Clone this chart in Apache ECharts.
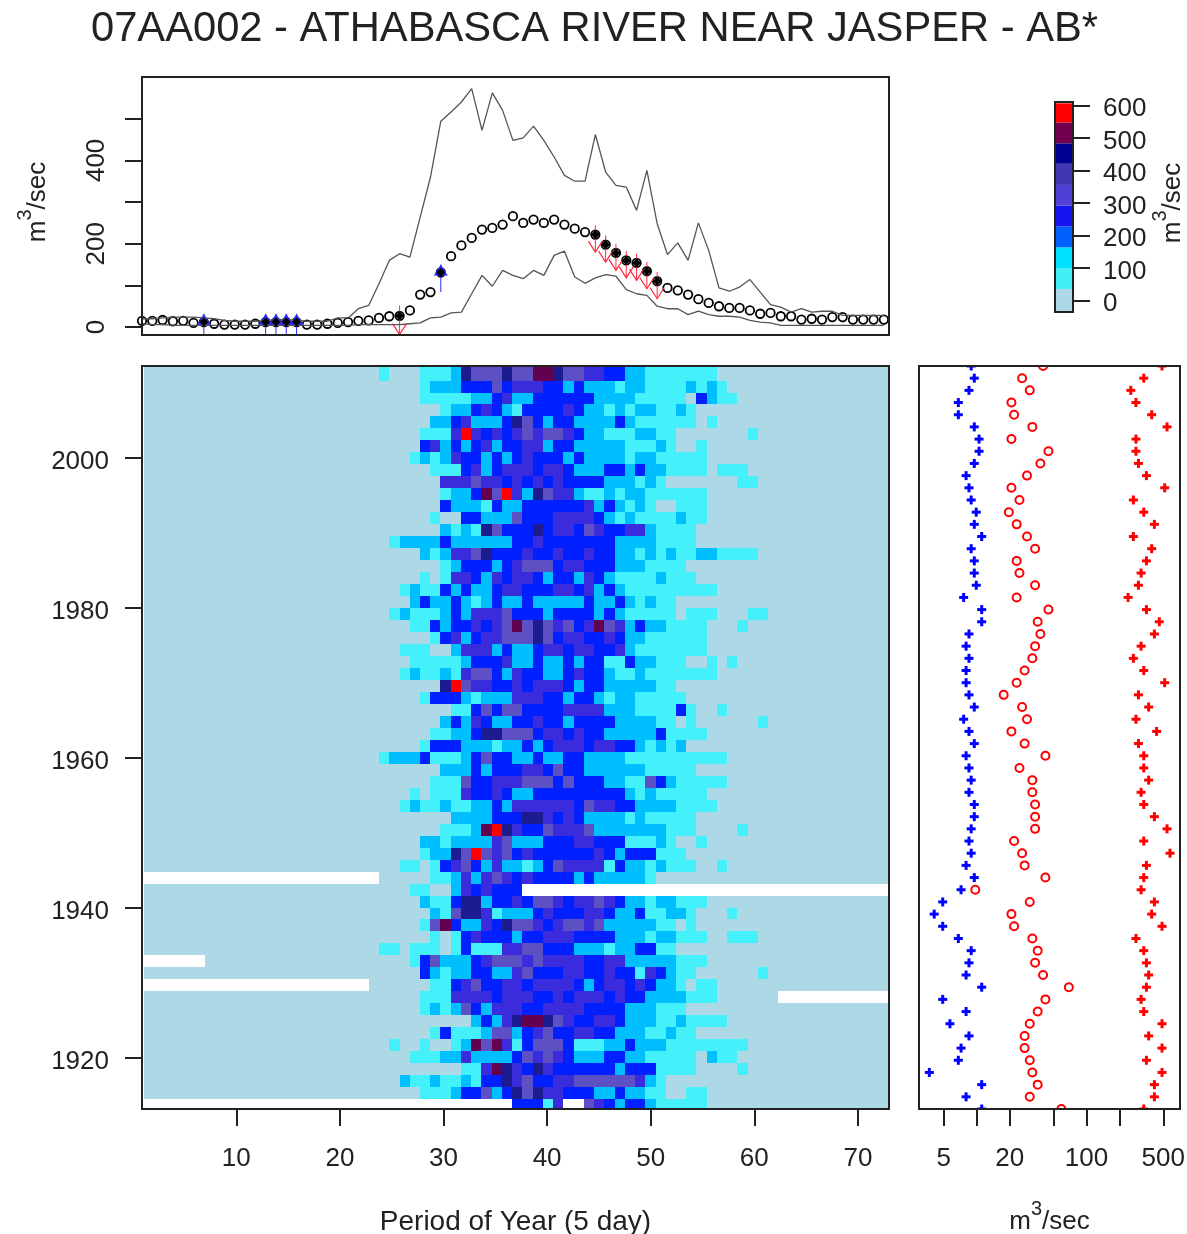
<!DOCTYPE html>
<html>
<head>
<meta charset="utf-8">
<title>07AA002</title>
<script src="https://cdn.jsdelivr.net/npm/echarts@6/dist/echarts.min.js"></script>
<style>
html, body { margin: 0; background: #fff; }
#chart { width: 1187px; height: 1234px; }
</style>
</head>
<body>
<div id="chart"></div>
<script>
var titleText = '07AA002 - ATHABASCA RIVER NEAR JASPER - AB*';
var fontName = '"Liberation Sans", Arial, sans-serif';

// top panel, one value per 5 day period (m3/sec)
var meanFlow = [15,15,17,14,15,10,12,8,6,6,6,8,12,12,12,12,6,6,8,10,12,15,16,22,26,27,40,78,84,131,170,196,214,234,238,246,266,250,258,250,258,246,236,228,222,198,178,160,154,134,110,94,88,78,67,58,50,46,46,40,32,34,26,26,18,20,18,24,24,18,18,18,18];
var maxFlow = [20,20,22,24,24,24,22,20,16,14,14,14,16,18,18,16,14,14,14,22,22,44,52,104,160,176,168,264,360,494,516,540,572,472,562,520,448,454,482,448,408,364,350,350,462,372,340,336,280,376,248,174,202,160,250,184,94,86,96,114,84,54,48,36,44,36,38,38,28,28,28,28,28];
var minFlow = [8,6,6,4,4,4,4,4,4,4,4,4,4,4,4,4,4,4,4,4,4,6,6,6,6,6,8,10,22,24,34,36,80,124,98,136,124,116,136,124,172,182,120,105,118,126,122,90,80,76,50,44,44,30,38,30,26,26,24,16,12,10,4,4,4,4,4,4,4,4,4,4,4];

// periods with a trend marker: [period, tail, head]
var trendArrows = [[7,-20,32],[13,-20,32],[14,-20,32],[15,-20,32],[16,-20,32],[26,52,-18],[30,84,150],[45,244,180],[46,220,156],[47,200,136],[48,182,118],[49,176,112],[50,156,92],[51,132,68]];

// heat map, top row first. each row lists "period:class" where the class changes, x = no data
var heatRows = [
  '24:1 25:0 28:1 31:2 32:6 33:5 36:6 37:5 39:7 41:6 42:5 44:4 46:3 48:2 50:1 57:0',
  '28:1 29:2 32:3 35:5 36:3 37:4 40:3 42:2 43:3 44:2 47:1 48:2 50:1 54:2 55:1 56:2 57:1 58:0',
  '28:1 33:2 35:3 36:4 37:2 39:3 45:2 49:1 54:0 55:3 56:2 57:1 59:0',
  '30:1 31:2 33:3 34:4 35:3 36:2 37:1 38:3 42:4 43:3 44:2 46:1 47:2 48:1 49:2 51:1 53:2 54:1 55:0',
  '29:2 31:3 32:4 33:2 36:3 37:6 38:5 39:3 40:2 41:3 43:2 47:3 48:2 49:1 55:0 56:1 57:0',
  '28:1 31:4 32:8 33:4 34:3 35:4 36:3 37:4 38:5 39:4 40:5 42:4 43:3 44:2 46:1 49:2 51:1 53:0 60:1 61:0',
  '28:3 29:4 30:2 31:3 32:2 33:3 34:4 35:2 36:3 38:4 40:2 41:3 43:2 48:1 51:2 52:1 53:0 55:1 56:0',
  '27:1 28:2 29:1 30:2 31:4 32:3 34:2 35:3 36:2 37:3 38:4 39:3 42:2 43:3 44:2 48:1 49:2 51:1 56:0',
  '29:1 32:3 33:4 34:2 35:3 36:4 39:3 40:4 42:3 43:2 46:3 48:2 49:3 50:2 52:1 56:0 57:1 60:0',
  '30:4 33:5 34:4 36:3 37:4 38:3 39:4 40:3 41:4 42:3 46:2 49:1 50:2 51:1 52:0 59:1 61:0',
  '30:1 31:2 33:3 34:7 35:5 36:8 37:4 38:2 39:6 40:5 41:4 43:2 44:1 46:2 47:1 48:2 50:1 56:0',
  '30:3 31:2 34:1 35:3 36:2 38:3 44:4 45:2 46:3 47:2 48:1 49:2 50:1 51:0 53:1 56:0',
  '29:1 30:0 32:3 34:2 37:5 38:3 41:4 45:3 46:2 47:1 48:2 49:1 53:2 54:1 56:0',
  '30:2 31:1 32:2 33:1 34:6 35:5 36:3 39:6 40:3 41:4 43:3 44:5 45:4 46:3 48:4 50:2 51:1 55:0',
  '25:1 26:2 30:3 31:2 37:3 39:4 40:3 47:2 51:1 55:0',
  '28:2 29:1 30:2 31:4 33:5 34:6 35:3 38:4 39:3 41:4 42:3 44:4 45:3 47:2 49:1 50:2 51:1 52:2 53:1 55:2 57:1 61:0',
  '30:1 31:2 32:3 35:2 36:3 37:4 38:5 41:3 42:4 44:3 47:2 50:1 54:0',
  '28:1 29:0 30:1 31:4 33:3 34:2 35:4 36:3 37:4 39:3 40:2 41:3 43:2 44:4 45:3 46:2 47:1 51:2 52:1 55:0',
  '26:1 27:2 28:1 30:3 31:2 32:3 33:2 35:3 36:4 38:3 41:4 43:3 44:4 45:2 46:3 47:2 48:1 57:0',
  '27:2 28:3 29:2 31:3 32:2 33:1 34:2 35:3 36:2 38:3 39:2 44:3 45:2 47:3 48:2 49:1 50:2 51:1 53:0',
  '25:1 26:2 27:1 30:2 31:3 32:2 33:4 36:5 37:3 40:2 41:3 45:2 46:3 47:2 48:1 53:0 54:1 57:0 60:1 62:0',
  '27:1 29:3 30:2 31:3 33:4 34:3 35:4 36:5 37:7 38:5 39:6 40:5 41:4 42:5 43:3 44:4 45:7 46:5 47:4 48:2 49:3 50:2 52:1 56:0 59:1 60:0',
  '29:1 30:3 31:4 32:2 33:3 34:4 36:5 39:6 40:5 41:3 42:4 44:3 46:4 47:3 48:2 50:1 56:0',
  '26:1 29:0 31:2 32:4 35:2 36:3 37:2 39:3 40:4 42:3 43:4 45:3 47:4 48:2 49:1 56:0',
  '27:1 32:2 33:3 36:4 37:2 39:3 40:2 42:3 43:2 44:3 46:1 48:3 49:2 51:1 54:0 56:1 57:0 58:1 59:0',
  '26:1 27:2 28:1 30:2 31:1 32:4 33:5 35:3 36:2 37:4 38:3 40:2 42:3 43:4 44:3 46:2 47:1 49:2 50:1 57:0',
  '30:6 31:8 32:5 33:4 35:3 37:4 38:3 39:4 42:3 43:2 44:3 46:2 51:1 53:0',
  '28:1 29:3 32:2 33:1 34:2 37:4 40:3 42:2 43:3 45:2 46:1 47:2 49:1 54:0',
  '31:1 33:3 34:5 35:3 36:5 38:3 42:4 46:2 49:1 53:3 54:1 55:0 57:1 58:0',
  '30:2 31:3 32:2 33:4 34:3 35:2 37:3 39:4 40:3 42:2 43:3 47:2 51:1 53:0 54:1 55:0 61:1 62:0',
  '29:1 31:2 33:3 34:6 36:5 39:3 40:4 42:3 43:4 44:3 46:2 51:3 52:1 56:0',
  '28:1 29:3 32:2 35:1 36:2 38:3 39:2 40:3 41:4 44:3 45:4 47:3 49:2 50:1 51:2 52:1 53:2 54:0',
  '24:1 25:2 28:3 29:1 32:2 33:3 34:5 35:3 37:2 39:3 40:2 42:3 44:2 48:1 58:0',
  '30:2 33:3 34:2 35:3 38:4 40:3 41:5 42:3 44:2 50:1 55:0',
  '29:1 32:5 33:3 35:4 38:5 41:3 42:5 43:3 46:2 48:1 50:5 51:3 52:2 53:1 58:0',
  '27:1 28:0 29:1 32:4 33:3 35:4 36:3 37:2 39:3 48:2 49:1 50:2 51:1 56:0',
  '26:1 27:2 28:1 30:2 31:1 33:2 35:3 36:2 37:4 43:3 44:5 45:4 47:3 49:2 53:1 57:0',
  '31:2 35:3 38:6 40:4 41:3 42:4 43:3 44:2 48:1 49:2 50:1 55:0',
  '30:1 33:2 34:7 35:8 36:6 37:4 38:3 40:5 41:4 44:5 45:2 52:1 55:0 59:1 60:0',
  '28:2 30:1 31:2 35:4 36:5 37:2 40:3 43:4 45:3 48:1 51:2 52:1 53:0 55:1 56:0',
  '28:1 29:2 31:6 32:5 33:8 34:5 35:4 36:5 37:3 38:4 39:3 45:4 46:3 47:2 48:3 51:1 54:0',
  '26:1 28:0 29:1 30:3 31:4 32:5 33:3 34:2 35:4 36:2 38:1 39:2 40:3 41:5 42:4 46:1 47:3 48:2 50:1 51:2 52:1 55:0 57:1 58:0',
  '1:x 24:0 29:1 31:2 32:4 33:2 34:4 35:5 36:4 37:3 38:4 39:3 43:2 44:3 45:2 50:1 51:0',
  '27:1 29:0 31:2 32:4 33:3 34:4 35:3 38:x',
  '28:2 29:1 31:3 32:6 34:2 35:3 37:4 38:3 39:5 41:4 42:3 43:4 45:5 46:4 47:3 48:2 50:1 51:2 53:1 56:0',
  '29:2 30:1 31:5 32:6 34:4 35:1 36:2 39:3 40:4 41:3 44:4 46:3 47:2 49:3 50:1 52:2 54:1 55:0 58:1 59:0',
  '28:1 29:5 30:7 31:3 32:2 34:4 35:3 36:6 37:5 39:4 40:3 41:4 42:5 44:4 45:5 46:2 51:1 53:0 54:1 55:0',
  '29:1 30:0 31:1 32:3 33:4 34:3 37:2 38:3 40:4 43:3 47:2 50:1 51:2 53:1 56:0 58:1 61:0',
  '24:1 26:0 27:1 30:0 31:1 32:3 33:1 36:4 38:5 40:3 43:2 46:1 47:2 49:3 51:1 53:0',
  '1:x 7:0 27:1 28:3 29:5 30:2 33:3 34:4 35:5 38:4 39:5 40:4 44:3 46:4 48:2 53:1 56:0',
  '28:3 29:2 30:1 31:2 33:3 35:2 37:4 38:5 39:3 42:4 44:3 46:4 47:3 49:1 50:4 51:3 52:2 53:1 55:0 61:1 62:0',
  '1:x 23:0 29:1 31:3 32:4 33:5 34:3 36:4 38:3 39:4 43:3 44:2 45:3 46:4 48:3 49:4 50:3 51:2 53:1 54:0 55:1 57:0',
  '28:1 31:4 35:3 36:4 39:3 41:4 42:3 43:4 46:3 47:4 48:3 50:2 54:1 57:0 63:x',
  '28:1 29:2 30:1 31:2 32:5 33:3 34:2 35:4 38:3 40:4 44:3 48:2 51:1 54:0',
  '33:2 34:3 35:2 36:4 37:6 38:7 40:6 41:5 42:4 43:3 45:4 47:3 48:2 51:1 53:2 54:1 58:0',
  '29:1 30:3 31:1 34:2 35:5 37:2 38:3 39:4 40:5 41:3 43:4 45:3 47:2 50:1 52:2 53:1 55:0',
  '25:1 26:0 28:1 29:0 31:1 32:2 33:7 34:5 35:7 36:4 37:1 38:3 39:5 42:3 43:1 46:2 48:3 49:2 52:1 60:0',
  '27:1 30:2 32:4 33:2 37:3 38:5 39:4 40:5 41:4 42:3 43:2 46:3 48:2 50:1 55:0 56:2 57:1 59:0',
  '32:1 34:4 35:7 36:6 37:4 38:3 39:6 40:4 41:3 47:2 48:3 51:1 55:0 59:1 60:0',
  '26:2 27:1 29:2 30:1 32:2 33:1 34:3 36:6 37:4 38:5 39:3 41:4 43:5 49:4 50:2 51:1 52:0',
  '28:1 31:2 32:3 34:5 35:2 36:3 37:6 38:5 39:6 40:4 42:3 45:2 47:3 48:2 50:1 52:0 54:1 56:0',
  '1:x 37:3 40:1 41:4 42:x 44:5 45:4 46:3 47:2 48:3 50:2 51:1 56:0'
];
var heatColors = ['#add8e6','#44f0fa','#00bfff','#0020ff','#3a2cdc','#5c50c4','#1c1c90','#640050','#ff0000'];

// right panel, one value per row from the top (m3/sec)
var yearMin = [8.9,9.5,8.5,6.8,6.8,9.5,10.5,10.5,9.5,8,8.5,8.9,9.9,9.5,11.1,8.9,9.5,9.5,9.9,7.6,11.1,11.1,8.5,8,8.5,8,8,8.5,9.5,7.6,8.5,9.5,8,8.5,8.9,8.5,9.5,9.5,8.9,8.5,8.9,8,9.5,7.2,4.9,4.1,4.9,6.8,8.9,8.5,8,11.1,4.9,8,5.7,8.5,7.2,6.8,3.7,11.1,8,11.1];
var yearMean = [40.2,25.9,30.4,20.7,21.9,32.1,20.7,45,38,28.7,20.7,24.5,19.6,23.1,28.7,34,23.1,24.5,34,23.1,45,35.9,38,34,32.1,27.3,23.1,17.6,25.9,28.7,20.7,27.3,42.2,24.5,32.1,32.1,34,34,34,21.9,25.9,27.3,42.2,9.7,30.4,20.7,21.9,32.1,35.9,34,40.2,69,42.2,35.9,30.4,27.3,27.3,30.4,32.1,35.9,30.4,59];
var yearMax = [487,332,253,282,392,541,282,282,297,351,515,267,332,415,267,392,351,314,297,239,351,460,415,314,267,332,515,297,368,282,435,297,332,332,368,314,332,415,541,332,576,351,332,314,415,392,487,282,332,351,368,351,314,332,487,368,487,351,487,415,415,332];

// colour bar
var legendBreaks = [-32,36,100,164,228,292,356,421,484,548,607];
var legendColors = ['#add8e6','#40f0f5','#00e0ff','#0060ff','#1414f0','#5040d8','#4038b0','#000090','#700050','#ff0000'];
var legendTicks = [0,100,200,300,400,500,600];

var yearTicks = [1920,1940,1960,1980,2000];
var periodTicks = [10,20,30,40,50,60,70];
var flowTicks = [5,10,20,50,100,200,500];
var flowLabels = [5,20,100,500];
var unitName = '{a|m}{b|3}{a|/sec}';

// outerBoundsMode none, or v6 shrinks the grid to fit the labels
var gridTop = { left: 142, top: 77, width: 747, height: 258, outerBoundsMode: 'none' };
var gridHeat = { left: 142, top: 366, width: 747, height: 743, outerBoundsMode: 'none' };
var gridSide = { left: 919, top: 366, width: 261, height: 743, outerBoundsMode: 'none' };
var gridBar = { left: 1055, top: 102, width: 18, height: 210, outerBoundsMode: 'none' };

// heat cells do not sit exactly on the axis numbers in the original
var cellStartX = 1.045, cellStepX = 0.9884;
var cellStartY = 2011.93, cellStepY = 1.597;

var heatCells = [];
heatRows.forEach(function (row, r) {
    var changes = {};
    row.split(' ').forEach(function (part) {
        var p = part.split(':');
        changes[p[0]] = p[1];
    });
    var cls = '0';
    for (var c = 1; c <= 73; c++) {
        if (changes[c] !== undefined) cls = changes[c];
        if (cls !== 'x') heatCells.push([c, r, +cls]);
    }
});

var chart = echarts.init(document.getElementById('chart'));

function clipTo(params, rect) {
    return echarts.graphic.clipRectByRect(rect, {
        x: params.coordSys.x, y: params.coordSys.y,
        width: params.coordSys.width, height: params.coordSys.height
    });
}

function heatItem(params, api) {
    var c = api.value(0), r = api.value(1);
    var x0 = cellStartX + (c - 1) * cellStepX;
    var y0 = r === 0 ? 2013 : cellStartY - r * cellStepY;
    var a = api.coord([x0, y0]);
    var b = api.coord([x0 + cellStepX, cellStartY - (r + 1) * cellStepY]);
    var left = Math.round(a[0]), top = Math.round(a[1]);
    var rect = clipTo(params, {
        x: left, y: top, width: Math.round(b[0]) - left, height: Math.round(b[1]) - top
    });
    return rect && { type: 'rect', shape: rect, style: { fill: heatColors[api.value(2)] } };
}

function barItem(params, api) {
    var a = api.coord([0, api.value(0)]);
    var b = api.coord([1, api.value(1)]);
    return {
        type: 'rect',
        shape: { x: a[0], y: b[1], width: b[0] - a[0], height: a[1] - b[1] },
        style: { fill: legendColors[params.dataIndex] }
    };
}

function arrowItem(params, api) {
    var tail = api.coord([api.value(0), api.value(1)]);
    var head = api.coord([api.value(0), api.value(2)]);
    var up = head[1] < tail[1];
    var dir = up ? 1 : -1;
    var color = up ? '#2a2aff' : '#ff2a3c';
    var tip = [
        [head[0] - 7, head[1] + dir * 11],
        [head[0], head[1]],
        [head[0] + 7, head[1] + dir * 11]
    ];
    return {
        type: 'group',
        children: [
            { type: 'line', shape: { x1: tail[0], y1: tail[1], x2: head[0], y2: head[1] }, style: { stroke: color, lineWidth: 1 } },
            up ? { type: 'polygon', shape: { points: tip }, style: { fill: color } }
               : { type: 'polyline', shape: { points: tip }, style: { stroke: color, fill: 'none', lineWidth: 1.2 } }
        ]
    };
}

// custom so that the marks on the top and bottom rows get cut by the frame
function plusItem(color) {
    return function (params, api) {
        var p = api.coord([api.value(0), api.value(1)]);
        return {
            type: 'group',
            children: [
                { type: 'rect', shape: { x: p[0] - 4.5, y: p[1] - 1.5, width: 9, height: 3 }, style: { fill: color } },
                { type: 'rect', shape: { x: p[0] - 1.5, y: p[1] - 4.5, width: 3, height: 9 }, style: { fill: color } }
            ]
        };
    };
}

function ringItem(params, api) {
    var p = api.coord([api.value(0), api.value(1)]);
    return {
        type: 'circle',
        shape: { cx: p[0], cy: p[1], r: 4 },
        style: { fill: 'none', stroke: '#ff0000', lineWidth: 2 }
    };
}

function byPeriod(values) {
    return values.map(function (v, i) { return [i + 1, v]; });
}

var rowIds = yearMean.map(function (v, i) { return i; });
function byRow(values) {
    return values.map(function (v, i) { return [v, i]; });
}

var richUnit = function (size) {
    return {
        a: { fontFamily: fontName, fontSize: size, color: '#222', lineHeight: 36, verticalAlign: 'bottom' },
        b: { fontFamily: fontName, fontSize: 20, color: '#222', lineHeight: 36, verticalAlign: 'top' }
    };
};
var tickLine = { color: '#222', width: 2 };
var plainLabel = function (v) { return String(v); };
// the original prints these labels a little under their ticks
var loweredLabel = function (v) { return '{t|' + v + '}'; };
var loweredRich = function (top) {
    return { t: { fontFamily: fontName, fontSize: 26, color: '#222', padding: [top, 0, 0, 0] } };
};

function frame(g) {
    return {
        type: 'rect', z: 100, silent: true,
        shape: { x: g.left, y: g.top, width: g.width, height: g.height },
        style: { fill: 'none', stroke: '#222', lineWidth: 2 }
    };
}

chart.setOption({
    animation: false,
    backgroundColor: '#fff',
    title: {
        text: titleText, left: 86, top: 4,
        textStyle: { fontFamily: fontName, fontWeight: 'normal', fontSize: 41.7, color: '#222' }
    },
    grid: [gridTop, gridHeat, gridSide, gridBar],
    xAxis: [
        { gridIndex: 0, type: 'value', min: 1, max: 73.5, show: false },
        {
            gridIndex: 1, type: 'value', min: 0.9, max: 73,
            name: 'Period of Year (5 day)', nameLocation: 'middle', nameGap: 99,
            nameTextStyle: { color: '#222', fontFamily: fontName, fontSize: 28 },
            axisLine: { show: false }, splitLine: { show: false },
            axisTick: { show: true, length: 17, customValues: periodTicks, lineStyle: tickLine },
            axisLabel: { show: true, margin: 37, customValues: periodTicks, formatter: plainLabel, color: '#222', fontFamily: fontName, fontSize: 26 }
        },
        {
            gridIndex: 2, type: 'log', min: 2.98, max: 710,
            name: unitName, nameLocation: 'middle', nameGap: 90,
            nameTextStyle: { rich: richUnit(26) },
            axisLine: { show: false }, splitLine: { show: false }, minorTick: { show: false },
            axisTick: { show: true, length: 17, customValues: flowTicks, lineStyle: tickLine },
            axisLabel: { show: true, margin: 37, customValues: flowLabels, formatter: plainLabel, color: '#222', fontFamily: fontName, fontSize: 26 }
        },
        { gridIndex: 3, type: 'value', min: 0, max: 1, show: false }
    ],
    yAxis: [
        {
            gridIndex: 0, type: 'value', min: -19, max: 600,
            name: unitName, nameLocation: 'middle', nameGap: 91, nameRotate: 90,
            nameTextStyle: { rich: richUnit(26), padding: [0, 0, 0, 8] },
            axisLine: { show: false }, splitLine: { show: false },
            axisTick: { show: true, length: 17, customValues: [0,100,200,300,400,500], lineStyle: tickLine },
            axisLabel: { show: true, rotate: 90, margin: 32, customValues: [0,200,400], formatter: plainLabel, color: '#222', fontFamily: fontName, fontSize: 26 }
        },
        {
            gridIndex: 1, type: 'value', min: 1913.2, max: 2012.27,
            axisLine: { show: false }, splitLine: { show: false },
            axisTick: { show: true, length: 17, customValues: yearTicks, lineStyle: tickLine },
            axisLabel: { show: true, margin: 33, customValues: yearTicks, formatter: loweredLabel, rich: loweredRich(7) }
        },
        {
            gridIndex: 2, type: 'category', inverse: true, boundaryGap: false,
            data: rowIds, show: false
        },
        {
            gridIndex: 3, type: 'value', position: 'right', min: -34.8, max: 611,
            name: unitName, nameLocation: 'middle', nameGap: 67, nameRotate: 90,
            nameTextStyle: { rich: richUnit(26), padding: [0, 0, 0, 8] },
            axisLine: { show: false, onZero: false }, splitLine: { show: false },
            axisTick: { show: true, length: 17, customValues: legendTicks, lineStyle: tickLine },
            axisLabel: { show: true, margin: 30, customValues: legendTicks, formatter: loweredLabel, rich: loweredRich(7) }
        }
    ],
    series: [
        { type: 'line', xAxisIndex: 0, yAxisIndex: 0, data: byPeriod(maxFlow), showSymbol: false, lineStyle: { color: '#555', width: 1.3 } },
        { type: 'line', xAxisIndex: 0, yAxisIndex: 0, data: byPeriod(minFlow), showSymbol: false, lineStyle: { color: '#555', width: 1.3 } },
        {
            type: 'scatter', xAxisIndex: 0, yAxisIndex: 0, data: byPeriod(meanFlow),
            symbol: 'circle', symbolSize: 8.5,
            itemStyle: { color: 'rgba(0,0,0,0)', borderColor: '#000', borderWidth: 1.8, opacity: 1 }
        },
        {
            type: 'custom', xAxisIndex: 0, yAxisIndex: 0, data: trendArrows,
            renderItem: arrowItem, clip: true, z: 3
        },
        {
            type: 'scatter', xAxisIndex: 0, yAxisIndex: 0, z: 4,
            data: trendArrows.map(function (a) { return [a[0], meanFlow[a[0] - 1]]; }),
            symbol: 'diamond', symbolSize: 9, itemStyle: { color: '#000', opacity: 1 }
        },
        {
            type: 'custom', xAxisIndex: 1, yAxisIndex: 1, data: heatCells,
            encode: { x: 0, y: 1 }, renderItem: heatItem
        },
        { type: 'custom', xAxisIndex: 2, yAxisIndex: 2, data: byRow(yearMin), clip: true, renderItem: plusItem('#0000ff') },
        { type: 'custom', xAxisIndex: 2, yAxisIndex: 2, data: byRow(yearMean), clip: true, renderItem: ringItem },
        { type: 'custom', xAxisIndex: 2, yAxisIndex: 2, data: byRow(yearMax), clip: true, renderItem: plusItem('#ff0000') },
        {
            type: 'custom', xAxisIndex: 3, yAxisIndex: 3,
            data: legendColors.map(function (c, i) { return [legendBreaks[i], legendBreaks[i + 1]]; }),
            encode: { y: [0, 1] }, renderItem: barItem
        }
    ],
    graphic: [frame(gridTop), frame(gridHeat), frame(gridSide), frame(gridBar)]
});
</script>
</body>
</html>
